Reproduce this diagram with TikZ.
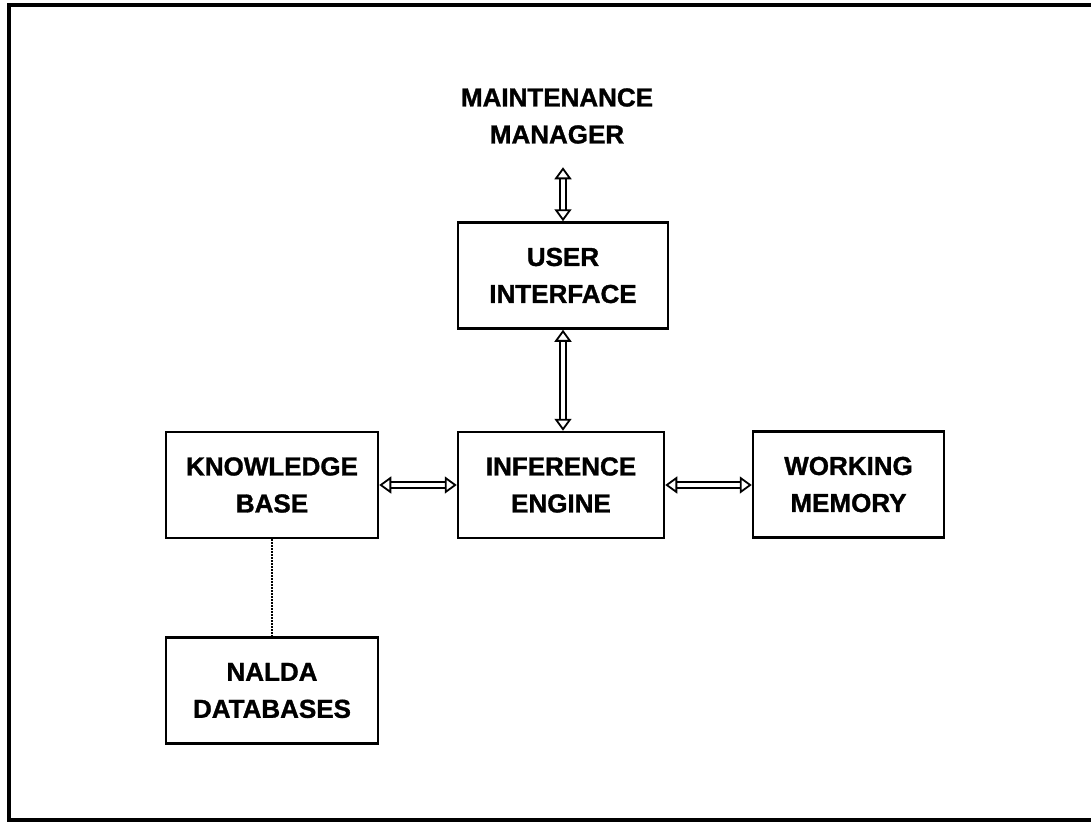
\documentclass[tikz,border=0pt]{standalone}
\usepackage{fontspec}
\setmainfont{Liberation Sans}[BoldFeatures={FakeBold=1.2}]
\usetikzlibrary{arrows.meta}

\begin{document}
\begin{tikzpicture}[x=1pt,y=-1pt,
    font=\fontsize{26}{37}\selectfont\bfseries,
    box/.style={draw,line width=2.5pt,minimum width=#1,minimum height=106pt,align=center,inner sep=0pt},
    link/.style={double,double distance=3.5pt,line width=1.8pt,
      {Triangle[open,width=17pt,length=12pt]}-{Triangle[open,width=17pt,length=12pt]}}]
  \useasboundingbox (0,0) rectangle (1091,822);
  \draw[line width=3.5pt] (1095,5) -- (9,5) -- (9,820) -- (1095,820);

  \node[align=center] (mm) at (557,116) {MAINTENANCE\\MANAGER};
  \node[box=210pt] (ui) at (563,275.5) {USER\\INTERFACE};
  \node[box=212pt] (kb) at (272,485) {KNOWLEDGE\\BASE};
  \node[box=206pt] (ie) at (561,485) {INFERENCE\\ENGINE};
  \node[box=191pt] (wm) at (848.5,484.5) {WORKING\\MEMORY};
  \node[box=212pt] (nalda) at (272,690.5) {NALDA\\DATABASES};

  \draw[link] (ui.north -| 563,0) ++(0,-54) coordinate (mmfoot) -- (ui.north -| 563,0);
  \draw[link] (ui.south) -- (ie.north -| ui.south);
  \draw[link] (kb.east) -- (ie.west |- kb.east);
  \draw[link] (ie.east) -- (wm.west |- ie.east);
  \draw[dash pattern=on 1.5pt off 1.5pt,line width=1.8pt] (kb.south) -- (nalda.north);
\end{tikzpicture}
\end{document}
